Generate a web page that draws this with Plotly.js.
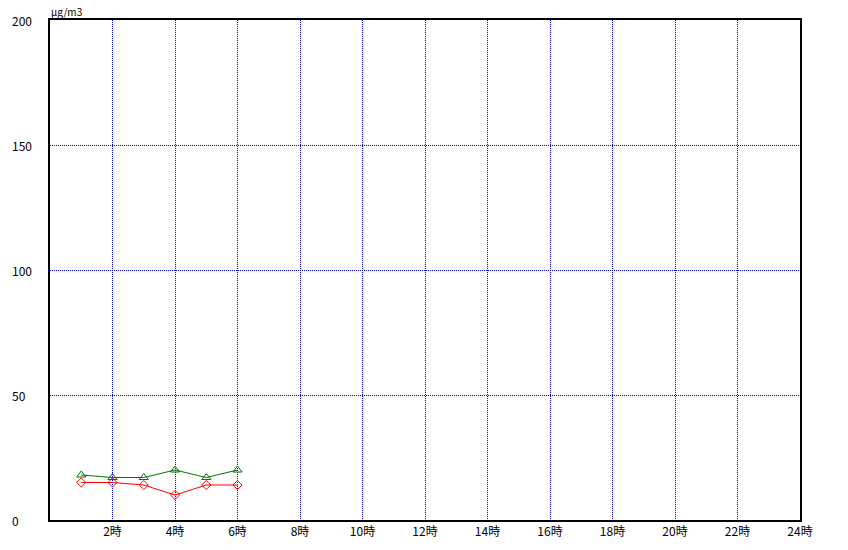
<!DOCTYPE html>
<html><head><meta charset="utf-8">
<script src="https://cdn.plot.ly/plotly-3.0.1.min.js"></script>
<style>body{margin:0;background:#fff}#c{width:848px;height:550px}</style>
</head><body><div id="c"></div>
<script>
var hours = [1, 2, 3, 4, 5, 6];
var greenSeries = [18, 17, 17, 20, 17, 20];
var redSeries = [15, 15, 14, 10, 14, 14];
var xTickVals = [2, 4, 6, 8, 10, 12, 14, 16, 18, 20, 22, 24];
var xTickText = ['2時','4時','6時','8時','10時','12時','14時','16時','18時','20時','22時','24時'];
var yTickVals = [0, 50, 100, 150, 200];
var yTickText = ['0','50','100','150','200'];
var unitLabel = 'μg/m3';

var font = {family: 'Noto Sans CJK JP, DejaVu Sans, sans-serif', size: 12, color: '#000'};
var traces = [
  {x: hours, y: redSeries, mode: 'lines+markers', line: {color: '#ff0000', width: 1},
   marker: {symbol: 'diamond-open', size: 7, color: '#ff0000', line: {width: 1}}, hoverinfo: 'none'},
  {x: hours, y: greenSeries, mode: 'lines+markers', line: {color: '#007700', width: 1},
   marker: {symbol: 'triangle-up-open', size: 8, color: '#007700', line: {width: 1}}, hoverinfo: 'none'}
];
var anns = yTickVals.map(function(v, i){
  return {xref: 'paper', yref: 'y', x: -50/750, y: v, xanchor: 'left', yanchor: 'middle',
          text: yTickText[i], showarrow: false, font: font, xshift: 10};
});
anns.push({xref: 'paper', yref: 'paper', x: 0, y: 1, xanchor: 'left', yanchor: 'bottom',
           text: unitLabel, showarrow: false, font: {family: font.family, size: 10, color: '#000'},
           yshift: 0, borderpad: 0});
var layout = {
  width: 848, height: 550, showlegend: false,
  margin: {l: 50, r: 48, t: 20, b: 30},
  paper_bgcolor: '#fff', plot_bgcolor: '#fff', font: font,
  xaxis: {range: [0, 24], tickvals: xTickVals, ticktext: xTickText, showgrid: true,
          gridcolor: '#0000ff', griddash: '1px,1px', gridwidth: 1, zeroline: false,
          showline: true, mirror: true, linecolor: '#000', linewidth: 2, ticks: '', fixedrange: true},
  yaxis: {range: [0, 200], tickvals: [50, 100, 150], showticklabels: false, showgrid: true,
          gridcolor: '#0000ff', griddash: '1px,1px', gridwidth: 1, zeroline: false,
          showline: true, mirror: true, linecolor: '#000', linewidth: 2, ticks: '', fixedrange: true},
  annotations: anns
};
Plotly.newPlot('c', traces, layout, {displayModeBar: false, staticPlot: true});
</script></body></html>
